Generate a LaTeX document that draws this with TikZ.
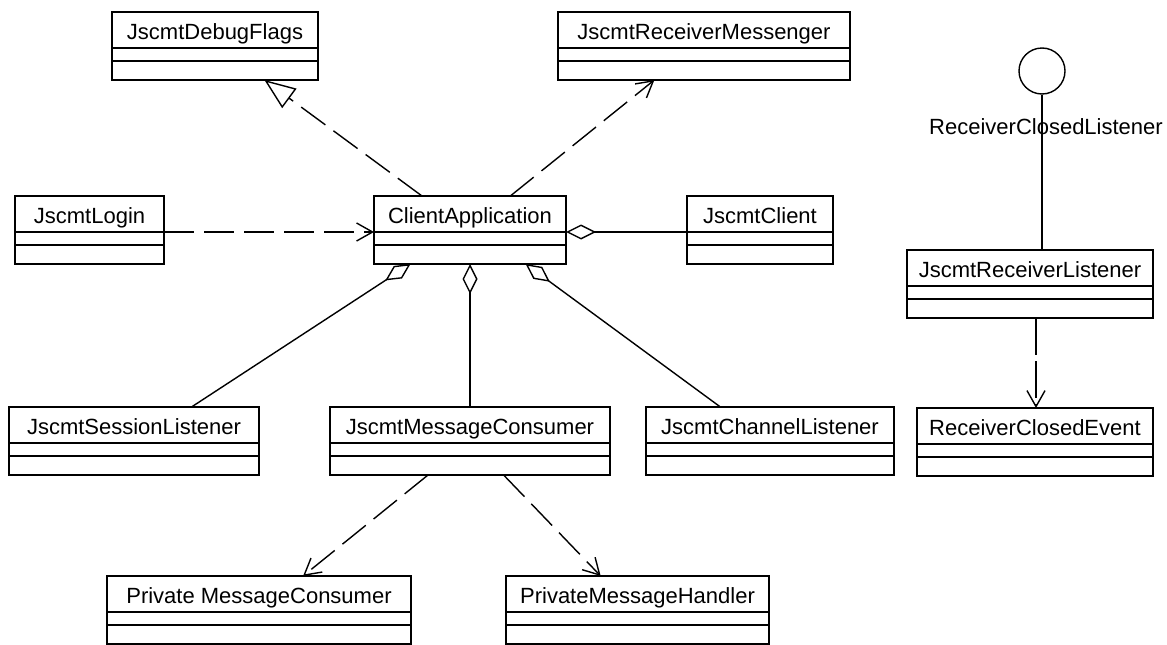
\documentclass[tikz,border=0pt]{standalone}
\usepackage{fontspec}
\setmainfont{Liberation Sans}
\usetikzlibrary{arrows.meta,calc}
\begin{document}
\begin{tikzpicture}[x=1pt,y=-1pt,
  % UML class box: name compartment, empty attribute and operation compartments
  cls/.style={draw, line width=1.4pt, anchor=north west, inner sep=0pt, outer sep=0pt,
    minimum height=68pt, text height=27pt, text depth=41pt,
    font=\fontsize{22pt}{26pt}\selectfont,
    path picture={\draw[line width=1.4pt]
      ([yshift=-36pt]path picture bounding box.north west) -- ([yshift=-36pt]path picture bounding box.north east)
      ([yshift=-49pt]path picture bounding box.north west) -- ([yshift=-49pt]path picture bounding box.north east);}},
  conn/.style={line width=1.4pt},
  dep/.style={conn, dash pattern=on 30pt off 10pt},
  opentip/.style={-{Straight Barb[length=16pt,width=18pt]}},
  realize/.style={-{Triangle[open,length=31pt,width=24pt]}},
  agg/.style={{Diamond[open,length=30pt,width=15pt]}-},
  lbl/.style={font=\fontsize{22pt}{26pt}\selectfont, inner sep=0pt}
]
\useasboundingbox (0,0) rectangle (1167,645);

% classes
\node[cls, minimum width=206pt] (dbg)    at (112,12)  {JscmtDebugFlags};
\node[cls, minimum width=292pt] (rm)     at (558,12)  {JscmtReceiverMessenger};
\node[cls, minimum width=149pt] (login)  at (15,196)  {JscmtLogin};
\node[cls, minimum width=192pt] (ca)     at (374,196) {ClientApplication};
\node[cls, minimum width=146pt] (client) at (687,196) {JscmtClient};
\node[cls, minimum width=250pt] (sl)     at (9,407)   {JscmtSessionListener};
\node[cls, minimum width=280pt] (mc)     at (330,407) {JscmtMessageConsumer};
\node[cls, minimum width=248pt] (cl)     at (646,407) {JscmtChannelListener};
\node[cls, minimum width=304pt] (pmc)    at (107,576) {Private MessageConsumer};
\node[cls, minimum width=263pt] (pmh)    at (506,576) {PrivateMessageHandler};
\node[cls, minimum width=246pt] (rl)     at (907,250) {JscmtReceiverListener};
\node[cls, minimum width=236pt] (rce)    at (917,408) {ReceiverClosedEvent};

% interface lollipop
\node[draw, circle, line width=1.4pt, minimum size=46pt, inner sep=0pt] (ifc) at (1042,71) {};
\draw[conn] (ifc.south) -- (ifc.south |- rl.north);
\node[lbl] (ifl) at (1046,127) {ReceiverClosedListener};

% dependencies and realization
\draw[dep, realize] ($(ca.north west)!0.25!(ca.north east)$) -- ($(dbg.south west)!0.74!(dbg.south east)$);
\draw[dep, opentip] ($(ca.north west)!0.71!(ca.north east)$) -- ($(rm.south west)!0.33!(rm.south east)$);
\draw[dep, opentip] ([yshift=-36pt]login.north east) -- ([yshift=-36pt]ca.north west);
\draw[dep, opentip] ($(mc.south west)!0.35!(mc.south east)$) -- ($(pmc.north west)!0.645!(pmc.north east)$);
\draw[dep, opentip] ($(mc.south west)!0.62!(mc.south east)$) -- ($(pmh.north west)!0.36!(pmh.north east)$);
\coordinate (rlx) at (1036,0);
\draw[conn, dash pattern=on 37pt off 6pt, opentip] (rlx |- rl.south) -- (rlx |- rce.north);

% aggregations
\draw[conn, agg] ([yshift=-36pt]ca.north east) -- ([yshift=-36pt]client.north west);
\draw[conn, agg] ($(ca.south west)!0.19!(ca.south east)$) -- ($(sl.north west)!0.73!(sl.north east)$);
\draw[conn, agg] (ca.south) -- (ca.south |- mc.north);
\draw[conn, agg] ($(ca.south west)!0.79!(ca.south east)$) -- ($(cl.north west)!0.30!(cl.north east)$);
\end{tikzpicture}
\end{document}
